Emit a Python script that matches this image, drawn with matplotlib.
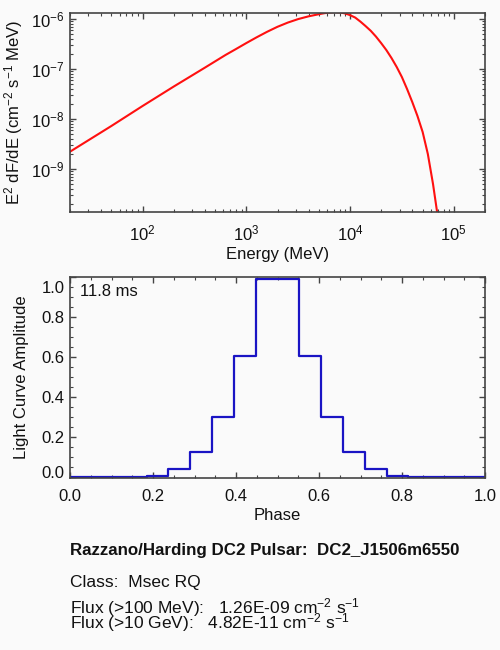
import numpy as np
import matplotlib
matplotlib.use("Agg")
import matplotlib.pyplot as plt
from matplotlib.ticker import LogLocator, NullFormatter, MultipleLocator, FixedLocator, FormatStrFormatter
from matplotlib.transforms import ScaledTranslation

# spectrum: E (MeV) vs E^2 dF/dE
energy = [20, 50, 100, 200, 400, 630, 794, 1000, 1259, 1585, 1995, 2512, 3162, 3981,
          5012, 5623, 6310, 7079, 7943, 8913, 10000, 11220, 12590, 14130, 15850, 17780,
          19950, 22390, 25120, 28180, 31620, 35480, 39810, 44670, 50120, 56230, 63100,
          69180, 72440]
e2dnde = [2.22e-9, 7.24e-9, 1.82e-8, 4.47e-8, 1.07e-7, 1.91e-7, 2.51e-7, 3.31e-7, 4.32e-7,
          5.56e-7, 7.0e-7, 8.51e-7, 1.0e-6, 1.135e-6, 1.253e-6, 1.309e-6, 1.355e-6, 1.38e-6,
          1.361e-6, 1.303e-6, 1.202e-6, 1.072e-6, 8.91e-7, 7.24e-7, 5.82e-7, 4.47e-7,
          3.31e-7, 2.40e-7, 1.66e-7, 1.10e-7, 6.92e-8, 3.98e-8, 2.19e-8, 1.15e-8, 5.5e-9,
          2.0e-9, 5.0e-10, 1.35e-10, 6.3e-11]

# light curve bins
phase = [0.000, 0.053, 0.105, 0.158, 0.211, 0.263, 0.316, 0.368, 0.421, 0.474,
         0.526, 0.579, 0.632, 0.684, 0.737, 0.789, 0.842, 0.895, 0.947, 1.000]
amplitude = [0, 0, 0, 0, 0.005, 0.042, 0.127, 0.30, 0.607, 0.99,
             0.99, 0.607, 0.30, 0.127, 0.042, 0.005, 0, 0, 0, 0]

period_label = "11.8 ms"
info_lines = [
    "Razzano/Harding DC2 Pulsar:  DC2_J1506m6550",
    "Class:  Msec RQ",
    r"Flux (>100 MeV):   1.26E-09 cm$^{-2}$ s$^{-1}$",
    r"Flux (>10 GeV):   4.82E-11 cm$^{-2}$ s$^{-1}$",
]

plt.rcParams['font.family'] = ['Liberation Sans', 'DejaVu Sans']
plt.rcParams['mathtext.fontset'] = 'custom'
plt.rcParams['mathtext.rm'] = 'Liberation Sans'
plt.rcParams['mathtext.it'] = 'Liberation Sans:italic'
plt.rcParams['mathtext.bf'] = 'Liberation Sans:bold'
plt.rcParams['font.size'] = 12

bg = '#fafafa'
axcol = '#444444'
txt = '#111111'

fig = plt.figure(figsize=(5, 6.5), dpi=100, facecolor=bg)


def style(ax):
    ax.set_facecolor(bg)
    for s in ax.spines.values():
        s.set_color(axcol)
        s.set_linewidth(1.2)
    ax.tick_params(which='both', direction='in', top=True, right=True, colors=axcol,
                   labelcolor=txt, labelsize=12)
    ax.tick_params(which='major', length=4.5, width=1)
    ax.tick_params(which='minor', length=2.5, width=0.8)
    ax.tick_params(axis='x', pad=8)
    ax.tick_params(axis='y', pad=4)


# top panel: spectrum
ax1 = fig.add_axes([0.14, 0.6734, 0.83, 0.307])
ax1.plot(energy, e2dnde, color='#ff1010', lw=1.5)
ax1.set_xscale('log')
ax1.set_yscale('log')
ax1.set_xlim(20, 2e5)
ax1.set_ylim(1.36e-10, 1.34e-6)
ax1.yaxis.set_major_locator(LogLocator(base=10, numticks=10))
ax1.yaxis.set_minor_locator(LogLocator(base=10, subs=np.arange(2, 10), numticks=20))
ax1.xaxis.set_minor_locator(LogLocator(base=10, subs=np.arange(2, 10), numticks=20))
ax1.yaxis.set_minor_formatter(NullFormatter())
ax1.xaxis.set_minor_formatter(NullFormatter())
style(ax1)
ax1.set_xlabel("Energy (MeV)", color=txt, labelpad=3)
ax1.set_ylabel(r"E$^2$ dF/dE (cm$^{-2}$ s$^{-1}$ MeV)", color=txt, labelpad=4)

# bottom panel: light curve
ax2 = fig.add_axes([0.14, 0.2646, 0.83, 0.309])
ax2.step(phase, amplitude, where='mid', color='#1a14c4', lw=1.6)
ax2.set_xlim(0, 1)
ax2.set_ylim(-0.004, 1.0)
ax2.xaxis.set_major_locator(MultipleLocator(0.2))
ax2.xaxis.set_minor_locator(MultipleLocator(0.05))
ax2.yaxis.set_major_locator(FixedLocator([0.0, 0.2, 0.4, 0.6, 0.8, 1.0]))
ax2.yaxis.set_minor_locator(MultipleLocator(0.05))
ax2.xaxis.set_major_formatter(FormatStrFormatter('%.1f'))
ax2.yaxis.set_major_formatter(FormatStrFormatter('%.1f'))
style(ax2)
ax2.set_xlabel("Phase", color=txt, labelpad=3)
ax2.set_ylabel("Light Curve Amplitude", color=txt, labelpad=9)
ax2.text(0.024, 0.965, period_label, transform=ax2.transAxes, va='top', ha='left',
         color=txt, fontsize=12)

# end labels sit inside the axis range
fig.canvas.draw()
for lab in ax2.get_yticklabels():
    if lab.get_text() == '1.0':
        lab.set_transform(lab.get_transform() + ScaledTranslation(0, -10 / 100, fig.dpi_scale_trans))
    elif lab.get_text() == '0.0':
        lab.set_transform(lab.get_transform() + ScaledTranslation(0, 5 / 100, fig.dpi_scale_trans))

# footer text, baselines in pixels from the top
baselines = [555, 587, 613, 628]
for i, (line, y) in enumerate(zip(info_lines, baselines)):
    fig.text(70 / 500, 1 - y / 650, line, ha='left', va='baseline', color=txt,
             fontsize=12.2 if i == 0 else 12.5, fontweight='bold' if i == 0 else 'normal')

fig.savefig("out.png", dpi=100, facecolor=bg)
